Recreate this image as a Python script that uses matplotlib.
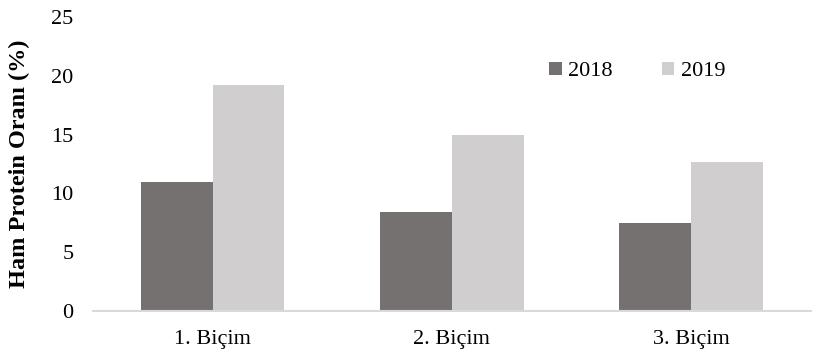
import numpy as np
import matplotlib.pyplot as plt

plt.rcParams['font.family'] = ['Liberation Serif', 'DejaVu Serif']

categories = ['1. Biçim', '2. Biçim', '3. Biçim']
years = ['2018', '2019']
vals_2018 = [11.0, 8.4, 7.5]
vals_2019 = [19.2, 15.0, 12.7]
yticks = [0, 5, 10, 15, 20, 25]

fig = plt.figure(figsize=(8.3, 3.54), dpi=100)
ax = fig.add_axes([0.112, 0.1215, 0.865, 0.8305])

x = np.arange(len(categories))
w = 0.3
ax.bar(x - w / 2, vals_2018, w, color='#767171', label=years[0])
ax.bar(x + w / 2, vals_2019, w, color='#D0CECE', label=years[1])

ax.set_xlim(-0.5, len(categories) - 0.5)
ax.set_ylim(0, 25)
ax.set_yticks(yticks)
ax.set_xticks(x)
ax.set_xticklabels(categories)
ax.tick_params(axis='both', length=0, labelsize=16)
ax.tick_params(axis='y', pad=14)
ax.tick_params(axis='x', pad=14)

for s in ['top', 'right', 'left']:
    ax.spines[s].set_visible(False)
ax.spines['bottom'].set_color('#D9D9D9')
ax.spines['bottom'].set_linewidth(1.5)

ax.set_ylabel('Ham Protein Oranı (%)', fontsize=17.5, fontweight='bold')
ax.yaxis.set_label_coords(-0.088, 0.5)

ax.legend(loc='center left', bbox_to_anchor=(0.608, 0.815), ncol=2, frameon=False,
          fontsize=16, handlelength=0.55, handleheight=0.55, handletextpad=0.3,
          columnspacing=2.2)

fig.savefig('out.png', dpi=100)
